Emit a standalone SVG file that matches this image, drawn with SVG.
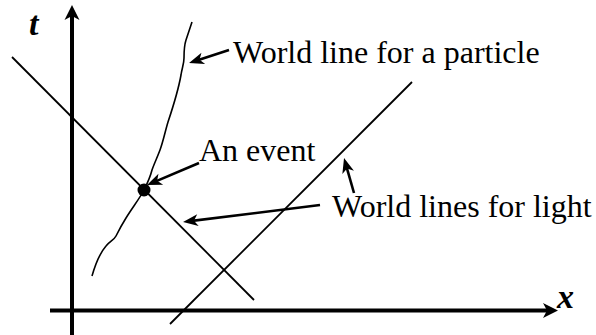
<svg xmlns="http://www.w3.org/2000/svg" width="596" height="335" viewBox="0 0 596 335">
<style>
.lbl{font-family:"Liberation Serif","Times New Roman",serif;font-size:32px;fill:#000}
.ax{font-family:"Liberation Serif","Times New Roman",serif;font-size:34px;font-weight:bold;font-style:italic;fill:#000}
.axis{stroke:#000;stroke-width:4;fill:none}
.light{stroke:#000;stroke-width:1.8;fill:none}
.wl{stroke:#000;stroke-width:1.6;fill:none}
.ptr{stroke:#000;stroke-width:2.6;fill:none}
</style>
<defs>
<marker id="big" viewBox="-10 -8 17 16" refX="0" refY="0" markerWidth="17" markerHeight="16" markerUnits="userSpaceOnUse" orient="auto">
<path d="M6,0 L-9,-7.5 L-5,0 L-9,7.5 Z" fill="#000"/>
</marker>
<marker id="small" viewBox="-11 -7 17 14" refX="0" refY="0" markerWidth="17" markerHeight="14" markerUnits="userSpaceOnUse" orient="auto">
<path d="M5,0 L-10,-6 L-6,0 L-10,6 Z" fill="#000"/>
</marker>
</defs>
<g id="axes">
<line class="axis" x1="72" y1="335" x2="72" y2="11" marker-end="url(#big)"/>
<line class="axis" x1="50" y1="310.5" x2="552" y2="310.5" marker-end="url(#big)"/>
<text class="ax" x="29" y="35">t</text>
<text class="ax" x="557" y="308">x</text>
</g>
<g id="light-lines">
<line class="light" x1="12" y1="57" x2="254" y2="300"/>
<line class="light" x1="170" y1="324" x2="412" y2="82"/>
</g>
<g id="particle-worldline">
<path class="wl" d="M192,22 L186,40 C184,46 184,52 184,58 C184,64 182,68 181,75 C178,92 172,110 168,122 C165,132 163,142 160,150 C157,158 154,164 152,170 C150,178 147,184 144,190 C140,198 132,208 126,218 C121,226 118,232 116,236 C114,240 110,241 106,246 C100,253 96,262 92,276"/>
</g>
<g id="event">
<circle cx="144" cy="190" r="6.5" fill="#000"/>
</g>
<g id="label-particle">
<text class="lbl" x="233" y="63">World line for a particle</text>
</g>
<g id="label-event">
<text class="lbl" x="199" y="161">An event</text>
</g>
<g id="label-light">
<text class="lbl" x="332" y="217">World lines for light</text>
</g>
<g id="connectors">
<line class="ptr" x1="229" y1="50" x2="193.8" y2="61.5" marker-end="url(#small)"/>
<line class="ptr" x1="199" y1="163" x2="151.6" y2="183.1" marker-end="url(#small)"/>
<line class="ptr" x1="320" y1="205" x2="188" y2="221.4" marker-end="url(#small)"/>
<line class="ptr" x1="354" y1="193" x2="345.4" y2="162.8" marker-end="url(#small)"/>
</g>
</svg>
